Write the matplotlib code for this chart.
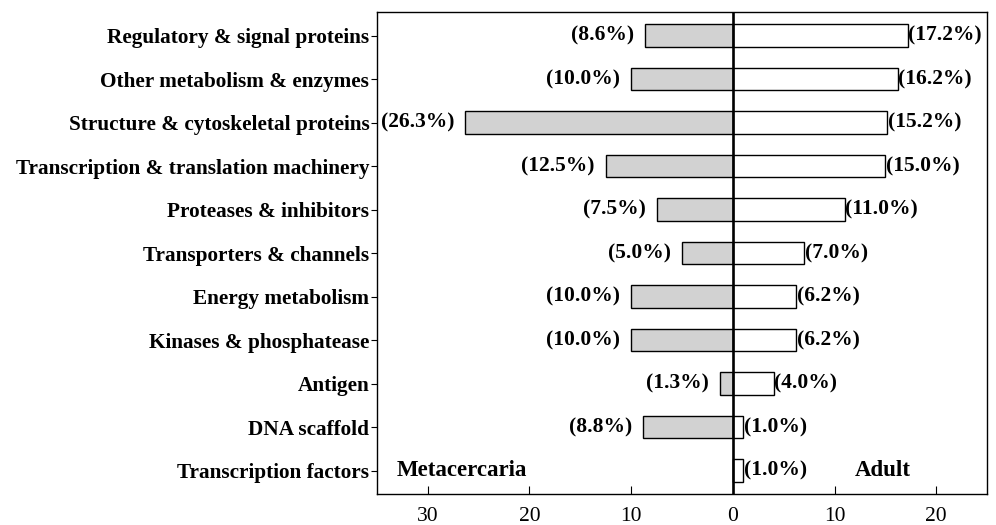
import matplotlib
matplotlib.use("Agg")
import matplotlib.pyplot as plt
import numpy as np

categories = ["Regulatory & signal proteins", "Other metabolism & enzymes",
              "Structure & cytoskeletal proteins", "Transcription & translation machinery",
              "Proteases & inhibitors", "Transporters & channels", "Energy metabolism",
              "Kinases & phosphatease", "Antigen", "DNA scaffold", "Transcription factors"]
metacercaria = [8.6, 10.0, 26.3, 12.5, 7.5, 5.0, 10.0, 10.0, 1.3, 8.8, 0.0]
adult = [17.2, 16.2, 15.2, 15.0, 11.0, 7.0, 6.2, 6.2, 4.0, 1.0, 1.0]
xticks = [-30, -20, -10, 0, 10, 20]
xticklabels = ["30", "20", "10", "0", "10", "20"]

plt.rcParams["font.family"] = "Liberation Serif"

fig = plt.figure(figsize=(9.96, 5.25), dpi=100)
ax = fig.add_axes([0.3785, 0.059, 0.6125, 0.918])

y = np.arange(len(categories))
meta_neg = [-v for v in metacercaria]
ax.barh(y, meta_neg, height=0.52, color="#d2d2d2", edgecolor="black", linewidth=1)
ax.barh(y, adult, height=0.52, color="white", edgecolor="black", linewidth=1)

for i in range(len(categories)):
    if metacercaria[i] > 0:
        ax.annotate("(%.1f%%)" % metacercaria[i], (meta_neg[i], y[i]), xytext=(-8, 0),
                    textcoords="offset points", ha="right", va="center",
                    fontsize=15.5, fontweight="bold")
    ax.annotate("(%.1f%%)" % adult[i], (adult[i], y[i]), xytext=(0.5, 0),
                textcoords="offset points", ha="left", va="center",
                fontsize=15.5, fontweight="bold")

ax.text(-33.1, y[-1], "Metacercaria", ha="left", va="center", fontsize=16.5, fontweight="bold")
ax.text(12.0, y[-1], "Adult", ha="left", va="center", fontsize=16.5, fontweight="bold")

ax.axvline(0, color="black", linewidth=1.9)
ax.set_xlim(-35, 25)
ax.set_ylim(len(categories) - 0.46, -0.54)
ax.set_yticks(y)
ax.set_yticklabels(categories, fontsize=15.3, fontweight="bold")
ax.set_xticks(xticks)
ax.set_xticklabels(xticklabels, fontsize=15.5)
ax.tick_params(axis="x", direction="in", length=6, pad=9)
ax.tick_params(axis="y", direction="out", length=4, pad=1.5)
for s in ax.spines.values():
    s.set_linewidth(1)

fig.savefig("out.png", dpi=100)
